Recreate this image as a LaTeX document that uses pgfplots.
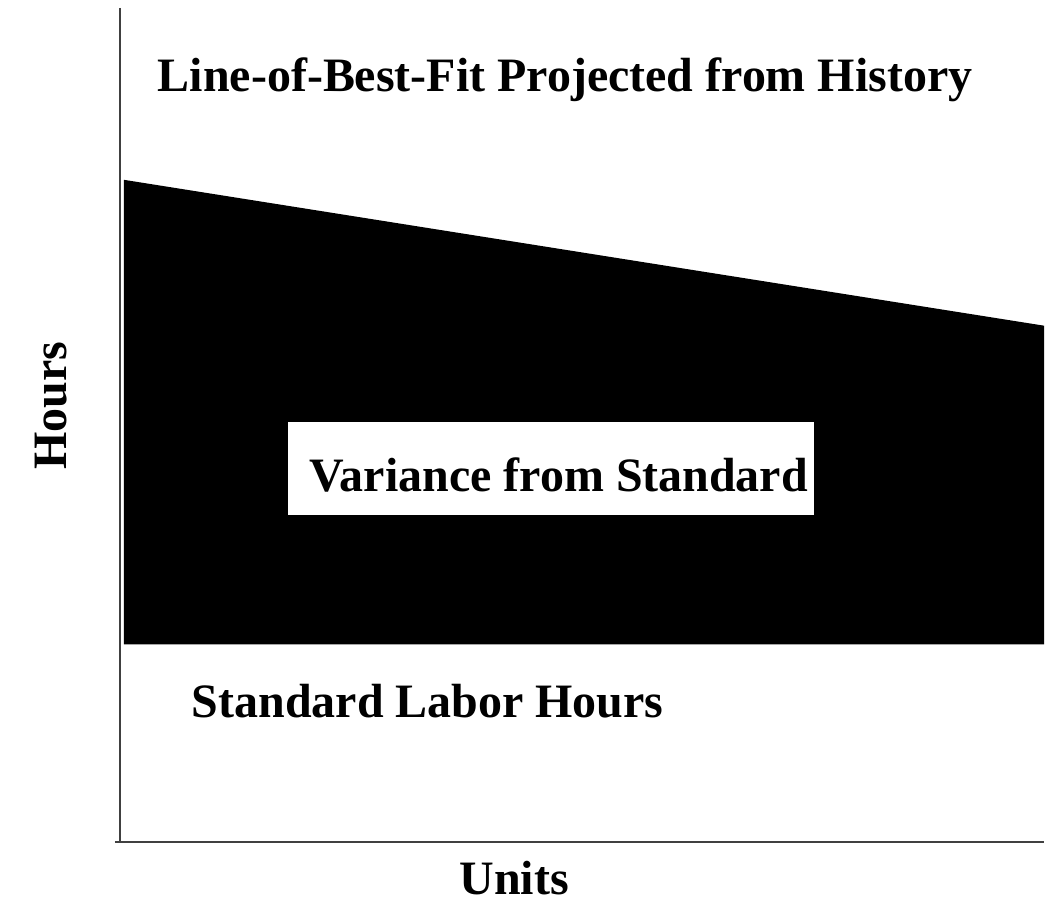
\documentclass[border=0pt]{standalone}
\usepackage{pgfplots}
\pgfplotsset{compat=1.18}
\usepackage{fontspec}
\setmainfont{Liberation Serif}
\definecolor{axisgray}{HTML}{404040}
\tikzset{lbl/.style={font=\fontsize{24}{28}\selectfont\bfseries, inner sep=0pt, outer sep=0pt, anchor=base west}}
\begin{document}
\begin{tikzpicture}
\begin{axis}[
  scale only axis, width=522.5pt, height=457.5pt,
  xmin=0, xmax=1045, ymin=0, ymax=915,
  hide axis, clip=false,
]
% variance region
\addplot[fill=black, draw=none] coordinates {(124,270) (1045,270) (1045,589) (124,735)} -- cycle;
% white label box
\addplot[fill=white, draw=none] coordinates {(288,399) (815,399) (815,493) (288,493)} -- cycle;
% axes
\addplot[axisgray, line width=1pt] coordinates {(120,907) (120,72)};
\addplot[axisgray, line width=1pt] coordinates {(115,72) (1045,72)};
\node[lbl] at (axis cs:158,823) {Line-of-Best-Fit Projected from History};
\node[lbl] at (axis cs:310,423) {Variance from Standard};
\node[lbl] at (axis cs:192,197) {Standard Labor Hours};
\node[lbl, rotate=90] at (axis cs:67,445) {Hours};
\node[lbl] at (axis cs:460,20) {Units};
\path (axis cs:0,0) rectangle (axis cs:1045,915);
\end{axis}
\end{tikzpicture}
\end{document}
